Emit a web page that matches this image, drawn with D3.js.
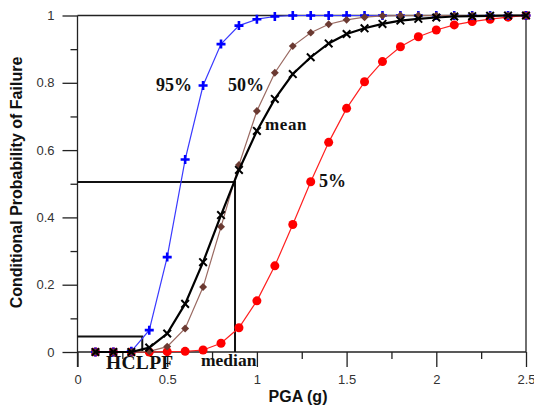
<!DOCTYPE html>
<html>
<head>
<meta charset="utf-8">
<script src="https://cdn.jsdelivr.net/npm/d3@7"></script>
<style>
  html, body { margin: 0; padding: 0; background: #fff; }
  svg { display: block; }
</style>
</head>
<body>
<svg id="chart" width="534" height="408"></svg>
<script>
// PGA grid (g)
const pga = [0.1,0.2,0.3,0.4,0.5,0.6,0.7,0.8,0.9,1.0,1.1,1.2,1.3,1.4,1.5,1.6,1.7,1.8,1.9,2.0,2.1,2.2,2.3,2.4,2.5];

// Fragility curves: conditional probability of failure
const p95  = [0,0,0.002,0.065,0.282,0.572,0.792,0.915,0.970,0.989,0.997,1,1,1,1,1,1,1,1,1,1,1,1,1,1];
const p50  = [0,0,0,0.002,0.016,0.070,0.193,0.372,0.556,0.716,0.830,0.909,0.949,0.974,0.987,0.995,0.999,1,1,1,1,1,1,1,1];
const pMean= [0,0,0,0.013,0.055,0.143,0.267,0.407,0.541,0.657,0.752,0.826,0.876,0.917,0.945,0.962,0.975,0.985,0.990,0.994,0.997,0.998,0.999,1,1];
const p05  = [0,0,0,0,0.001,0.002,0.006,0.026,0.072,0.152,0.256,0.379,0.506,0.623,0.724,0.803,0.863,0.907,0.937,0.957,0.972,0.982,0.989,0.995,1];

// Reference values
const median = 0.878, medianP = 0.505;
const hclpf = 0.361, hclpfP = 0.046;

const xTicks = [0, 0.5, 1, 1.5, 2, 2.5];
const xTickLabels = ["0", "0.5", "1", "1.5", "2", "2.5"];
const yTicks = [0, 0.2, 0.4, 0.6, 0.8, 1];
const yTickLabels = ["0", "0.2", "0.4", "0.6", "0.8", "1"];

const svg = d3.select("#chart");
const x = d3.scaleLinear().domain([0, 2.5]).range([77.5, 526]);
const y = d3.scaleLinear().domain([0, 1]).range([352, 15.5]);

const axisColor = "#222";
const sans = "Arial, 'Liberation Sans', sans-serif";

// frame: top and right edges
svg.append("line").attr("x1", x(0)).attr("x2", x(2.5)).attr("y1", y(1)).attr("y2", y(1))
  .attr("stroke", axisColor).attr("stroke-width", 1.3);
svg.append("line").attr("x1", x(2.5)).attr("x2", x(2.5)).attr("y1", y(1)).attr("y2", y(0))
  .attr("stroke", axisColor).attr("stroke-width", 1.3);

// x axis (major + minor)
const gx = svg.append("g").attr("transform", `translate(0,${y(0)})`);
gx.call(d3.axisBottom(x).tickValues(d3.range(0.25, 2.5, 0.5)).tickSize(7).tickFormat(""));
gx.call(g => g.select(".domain").remove());
const gx2 = svg.append("g").attr("transform", `translate(0,${y(0)})`);
gx2.call(d3.axisBottom(x).tickValues(xTicks).tickSize(15).tickPadding(8)
  .tickFormat((d, i) => xTickLabels[i]));
gx2.select(".domain").attr("d", `M${x(0)},0H${x(2.5)}`);
[gx, gx2].forEach(g => {
  g.selectAll("line").attr("stroke", axisColor).attr("stroke-width", 1.3);
  g.selectAll("path").attr("stroke", axisColor).attr("stroke-width", 1.3);
});
gx2.selectAll("text").attr("font-family", sans).attr("font-size", 13).attr("fill", "#333");

// y axis (major + minor)
const gy = svg.append("g").attr("transform", `translate(${x(0)},0)`);
gy.call(d3.axisLeft(y).tickValues(d3.range(0.1, 1, 0.2)).tickSize(7).tickFormat(""));
gy.call(g => g.select(".domain").remove());
const gy2 = svg.append("g").attr("transform", `translate(${x(0)},0)`);
gy2.call(d3.axisLeft(y).tickValues(yTicks).tickSize(15).tickPadding(8)
  .tickFormat((d, i) => yTickLabels[i]));
gy2.select(".domain").attr("d", `M0,${y(1)}V${y(0) + 15}`);
[gy, gy2].forEach(g => {
  g.selectAll("line").attr("stroke", axisColor).attr("stroke-width", 1.3);
  g.selectAll("path").attr("stroke", axisColor).attr("stroke-width", 1.3);
});
gy2.selectAll("text").attr("font-family", sans).attr("font-size", 13).attr("fill", "#333");

// axis titles
svg.append("text").attr("x", 298).attr("y", 402).attr("text-anchor", "middle")
  .attr("font-family", sans).attr("font-weight", "bold")
  .attr("font-size", 16).attr("fill", "#111").text("PGA (g)");
svg.append("text").attr("transform", `translate(21.5,${182.5}) rotate(-90)`).attr("text-anchor", "middle")
  .attr("font-family", sans).attr("font-weight", "bold")
  .attr("font-size", 16).attr("fill", "#111").text("Conditional Probability of Failure");

// median and HCLPF reference lines
const ref = svg.append("g").attr("fill", "none").attr("stroke", "#111").attr("stroke-width", 2);
ref.append("path").attr("d", `M${x(0)},${y(medianP)}H${x(median)}V${y(0)}`);
ref.append("path").attr("d", `M${x(0)},${y(hclpfP)}H${x(hclpf)}V${y(0)}`);

const line = d3.line().x(d => x(d[0])).y(d => y(d[1]));
const pts = vals => pga.map((v, i) => [v, vals[i]]);

// 5% curve: red circles
svg.append("path").datum(pts(p05)).attr("d", line).attr("fill", "none")
  .attr("stroke", "#ff2020").attr("stroke-width", 1.2);
svg.append("g").selectAll("circle").data(pts(p05)).join("circle")
  .attr("cx", d => x(d[0])).attr("cy", d => y(d[1])).attr("r", 4.5).attr("fill", "#ff0000");

// 95% curve: blue plus markers
svg.append("path").datum(pts(p95)).attr("d", line).attr("fill", "none")
  .attr("stroke", "#3a3aff").attr("stroke-width", 1.2);
svg.append("g").selectAll("path").data(pts(p95)).join("path")
  .attr("d", d => `M${x(d[0]) - 4.5},${y(d[1])}h9M${x(d[0])},${y(d[1]) - 4.5}v9`)
  .attr("stroke", "#0000ff").attr("stroke-width", 2.6);

// 50% curve: brown diamonds
svg.append("path").datum(pts(p50)).attr("d", line).attr("fill", "none")
  .attr("stroke", "#9a6a62").attr("stroke-width", 1.2);
svg.append("g").selectAll("path").data(pts(p50)).join("path")
  .attr("d", d3.symbol(d3.symbolDiamond2, 40))
  .attr("transform", d => `translate(${x(d[0])},${y(d[1])})`)
  .attr("fill", "#6b3a32");

// mean curve: black x markers
svg.append("path").datum(pts(pMean)).attr("d", line).attr("fill", "none")
  .attr("stroke", "#000").attr("stroke-width", 2.2);
svg.append("g").selectAll("path").data(pts(pMean)).join("path")
  .attr("d", d => `M${x(d[0]) - 3.8},${y(d[1]) - 3.8}l7.6,7.6M${x(d[0]) - 3.8},${y(d[1]) + 3.8}l7.6,-7.6`)
  .attr("stroke", "#000").attr("stroke-width", 2);

// curve labels
const serif = "'Times New Roman', 'Liberation Serif', serif";
const labels = [
  { t: "95%", x: 156, y: 91, s: 18 },
  { t: "50%", x: 228, y: 91, s: 18 },
  { t: "mean", x: 265, y: 130, s: 17, ls: 0.6 },
  { t: "5%", x: 319, y: 187, s: 18 },
  { t: "HCLPF", x: 106, y: 369, s: 19.5, ls: 0.3 },
  { t: "median", x: 201, y: 366, s: 17.5 }
];
svg.append("g").selectAll("text").data(labels).join("text")
  .attr("x", d => d.x).attr("y", d => d.y).attr("font-family", serif)
  .attr("font-weight", "bold").attr("font-size", d => d.s)
  .attr("letter-spacing", d => d.ls || 0).attr("fill", "#111").text(d => d.t);
</script>
</body>
</html>
